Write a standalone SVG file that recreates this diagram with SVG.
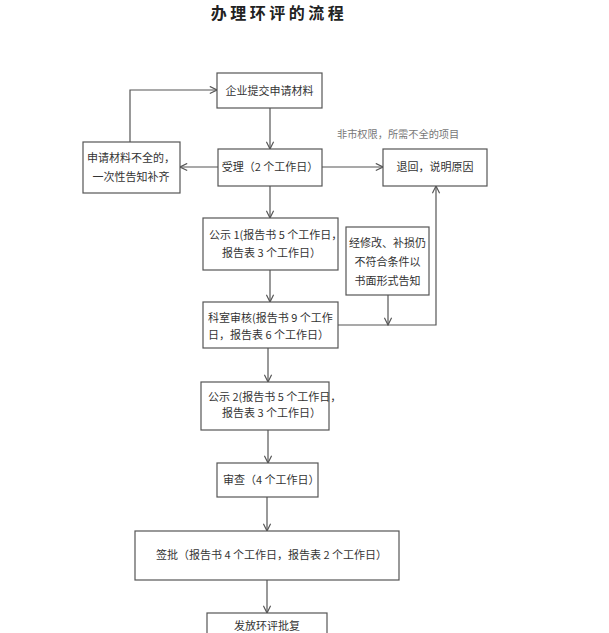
<svg xmlns="http://www.w3.org/2000/svg" width="609" height="633" viewBox="0 0 609 633">
<style>
.box{fill:#fff;stroke:#555;stroke-width:1.2}
.t{font-family:"Noto Sans CJK SC","Liberation Sans",sans-serif;font-size:11px;fill:#333}
.c{text-anchor:middle}
.ln{fill:none;stroke:#555;stroke-width:1.2}
.note{font-family:"Noto Sans CJK SC","Liberation Serif",serif;font-size:10.2px;fill:#777}
</style>
<defs>
<marker id="arr" viewBox="0 0 10 10" refX="9" refY="5" markerWidth="9" markerHeight="9" markerUnits="userSpaceOnUse" orient="auto">
<polyline points="1,1 9,5 1,9" fill="none" stroke="#555" stroke-width="1.3"/>
</marker>
</defs>
<rect width="609" height="633" fill="#fff"/>
<text x="279" y="19" text-anchor="middle" font-family="Noto Sans CJK SC, sans-serif" font-size="16" font-weight="bold" letter-spacing="3.5" fill="#222">办理环评的流程</text>

<g id="connectors">
<path class="ln" d="M130,142 V90 H217" marker-end="url(#arr)"/>
<path class="ln" d="M270,108 V149" marker-end="url(#arr)"/>
<path class="ln" d="M218,167 H180" marker-end="url(#arr)"/>
<path class="ln" d="M322,167 H383" marker-end="url(#arr)"/>
<path class="ln" d="M270,186 V218" marker-end="url(#arr)"/>
<path class="ln" d="M270,270 V302" marker-end="url(#arr)"/>
<path class="ln" d="M388,295 V325" marker-end="url(#arr)"/>
<path class="ln" d="M338,325 H436 V186" marker-end="url(#arr)"/>
<path class="ln" d="M268,348 V382" marker-end="url(#arr)"/>
<path class="ln" d="M268,430 V463" marker-end="url(#arr)"/>
<path class="ln" d="M267,497 V531" marker-end="url(#arr)"/>
<path class="ln" d="M267,580 V613" marker-end="url(#arr)"/>
</g>

<text class="note" x="337" y="138">非市权限，所需不全的项目</text>

<g id="n1"><rect class="box" x="217" y="73" width="105" height="35"/><text class="t c" x="269.5" y="95">企业提交申请材料</text></g>
<g id="n2"><rect class="box" x="218" y="149" width="104" height="37"/><text class="t c" x="270" y="171">受理（2 个工作日）</text></g>
<g id="n3"><rect class="box" x="83" y="142" width="97" height="51"/><text class="t c" x="131" y="162">申请材料不全的，</text><text class="t c" x="131" y="181">一次性告知补齐</text></g>
<g id="n4"><rect class="box" x="383" y="149" width="104" height="37"/><text class="t c" x="435" y="171">退回，说明原因</text></g>
<g id="n5"><rect class="box" x="203" y="218" width="135" height="52"/><text class="t" x="209" y="239">公示 1(报告书 5 个工作日，</text><text class="t" x="222" y="257">报告表 3 个工作日）</text></g>
<g id="n6"><rect class="box" x="346" y="227" width="83" height="68"/><text class="t c" x="387.5" y="247">经修改、补损仍</text><text class="t c" x="387.5" y="266">不符合条件以</text><text class="t c" x="387.5" y="285">书面形式告知</text></g>
<g id="n7"><rect class="box" x="203" y="302" width="135" height="46"/><text class="t" x="208" y="322">科室审核(报告书 9 个工作</text><text class="t" x="208" y="339">日，报告表 6 个工作日）</text></g>
<g id="n8"><rect class="box" x="201" y="382" width="128" height="48"/><text class="t" x="208" y="401">公示 2(报告书 5 个工作日，</text><text class="t" x="222" y="417">报告表 3 个工作日）</text></g>
<g id="n9"><rect class="box" x="217" y="463" width="101" height="34"/><text class="t" x="223" y="484">审查（4 个工作日）</text></g>
<g id="n10"><rect class="box" x="135" y="531" width="264" height="49"/><text class="t" x="156" y="559">签批（报告书 4 个工作日，报告表 2 个工作日）</text></g>
<g id="n11"><rect class="box" x="207" y="613" width="120" height="30"/><text class="t c" x="267" y="630">发放环评批复</text></g>
</svg>
